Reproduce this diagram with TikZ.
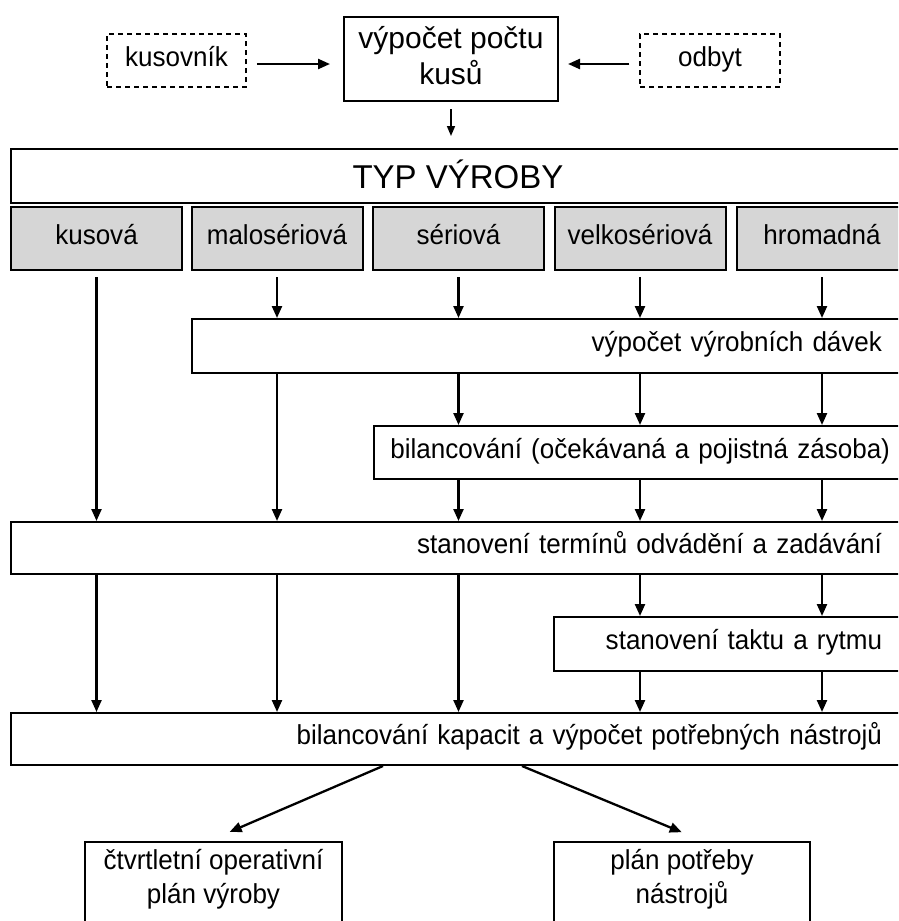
\documentclass[tikz,border=0pt]{standalone}
\usepackage{fontspec}
\setmainfont{Liberation Sans}
\newfontfamily\narrowfam[FakeStretch=0.95]{Liberation Sans}
\usetikzlibrary{arrows.meta}
\definecolor{kindgray}{RGB}{214,214,214}
\newcommand{\bodyfont}{\narrowfam\fontsize{27.4}{34}\selectfont}
\newcommand{\bigfont}{\fontsize{30}{36}\selectfont}
\newcommand{\typfont}{\fontsize{33}{40}\selectfont}
\tikzset{
  box/.style={draw,line width=2pt,inner sep=0pt,font=\bodyfont,text height=19pt,text depth=8pt},
  src/.style={box,dash pattern=on 5pt off 4pt,line width=1.5pt,minimum height=53pt},
  kind/.style={box,fill=kindgray,minimum width=171pt,minimum height=63pt},
  wide/.style={box,align=right,inner xsep=23pt},
  arr/.style={-{Triangle[length=12pt,width=10pt]},line width=2.3pt}
}
\begin{document}
\begin{tikzpicture}[x=1pt,y=-1pt,
 outp/.style={box,align=center,anchor=north,text height=61pt,text depth=80pt}]
\useasboundingbox (0,0) rectangle (898,921);
\clip (0,0) rectangle (898,921);
% inputs
\node[src,minimum width=139pt] (kusovnik) at (176.5,60.5) {kusovník};
\node[box,font=\bigfont,align=center,anchor=north,minimum width=214pt,text height=67pt,text depth=17pt] (pocet) at (451,16) {výpočet počtu\\kusů};
\node[src,minimum width=140pt] (odbyt) at (710,60.5) {odbyt};
\draw[arr,shorten <=10pt,shorten >=13pt] ([yshift=-3.5pt]kusovnik.east) -- ([yshift=-3.5pt]kusovnik.east -| pocet.west);
\draw[arr,shorten <=10pt,shorten >=9pt] ([yshift=-3.5pt]odbyt.west) -- ([yshift=-3.5pt]odbyt.west -| pocet.east);
% type of production
\node[box,font=\typfont,minimum width=894pt,minimum height=54pt,text height=24pt,text depth=0pt] (typ) at (458,176) {TYP VÝROBY};
\draw[-{Triangle[length=10pt,width=8pt]},line width=1.5pt,shorten <=7pt,shorten >=12pt] (pocet.south) -- (pocet.south |- typ.north);
\foreach \n/\x/\t in {k1/96.5/kusová, k2/277/malosériová, k3/458.5/sériová, k4/640/velkosériová, k5/822/hromadná}
  \node[kind] (\n) at (\x,238.5) {\t};
% steps
\node[wide,text width=667pt,minimum height=54pt] (davky) at (548.5,346) {výpočet výrobních dávek};
\node[wide,inner xsep=15pt,text width=501pt,minimum height=53pt] (bilanc) at (639.5,452.5) {bilancování (očekávaná a pojistná zásoba)};
\node[wide,text width=848pt,minimum height=52pt] (term) at (458,548) {stanovení termínů odvádění a zadávání};
\node[wide,text width=305pt,minimum height=54pt] (takt) at (729.5,644) {stanovení taktu a rytmu};
\node[wide,text width=848pt,minimum height=52pt] (kapacit) at (458,739) {bilancování kapacit a výpočet potřebných nástrojů};
% outputs
\node[outp,minimum width=257pt] (plan1) at (213.5,841) {čtvrtletní operativní\\plán výroby};
\node[outp,minimum width=256pt] (plan2) at (682,841) {plán potřeby\\nástrojů};
% flows
\draw[arr,shorten <=6pt] (k1.south) -- (k1.south |- term.north);
\foreach \n in {k2,k3,k4,k5} \draw[arr,shorten <=6pt] (\n.south) -- (\n.south |- davky.north);
\draw[arr] (davky.south -| k2) -- (term.north -| k2);
\foreach \n in {k3,k4,k5} {
  \draw[arr] (davky.south -| \n) -- (bilanc.north -| \n);
  \draw[arr] (bilanc.south -| \n) -- (term.north -| \n);
}
\foreach \n in {k1,k2,k3} \draw[arr] (term.south -| \n) -- (kapacit.north -| \n);
\foreach \n in {k4,k5} {
  \draw[arr] (term.south -| \n) -- (takt.north -| \n);
  \draw[arr] (takt.south -| \n) -- (kapacit.north -| \n);
}
\draw[arr,shorten >=23pt] ([xshift=-75pt]kapacit.south) -- ([xshift=-5pt]plan1.north);
\draw[arr,shorten >=23pt] ([xshift=64pt]kapacit.south) -- ([xshift=21pt]plan2.north);
\end{tikzpicture}
\end{document}
